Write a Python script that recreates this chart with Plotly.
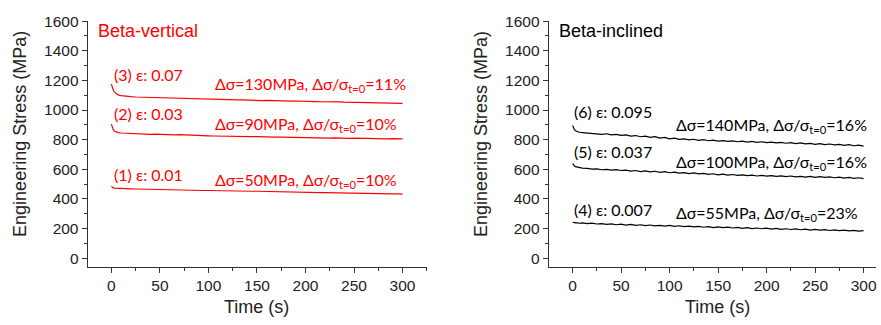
import plotly.graph_objects as go

# ---------------- data ----------------
time_s = [0, 1, 2, 3, 5, 7, 10] + list(range(15, 301, 5))

# Beta-vertical (red)
s3_eps007 = [1175, 1150, 1134, 1122, 1110, 1102, 1097,
             1092, 1090, 1088, 1087, 1085, 1086, 1083, 1081,
             1082, 1080, 1079, 1078, 1079, 1076, 1075, 1076, 1073, 1072,
             1073, 1071, 1070, 1071, 1069, 1068, 1069, 1067, 1066, 1066,
             1064, 1065, 1063, 1062, 1063, 1061, 1060, 1061, 1059, 1058,
             1059, 1057, 1056, 1057, 1055, 1054, 1055, 1053, 1052, 1053,
             1051, 1050, 1051, 1049, 1048, 1049, 1047, 1046, 1047, 1045]
s2_eps003 = [905, 880, 866, 858, 852, 848, 845,
             843, 841, 840, 838, 839, 836, 837, 835,
             836, 834, 833, 834, 832, 831, 832, 828, 825, 826,
             825, 824, 825, 823, 822, 823, 821, 821, 820, 821,
             819, 818, 819, 817, 817, 816, 817, 815, 814, 815,
             813, 814, 812, 812, 811, 812, 810, 811, 809, 810,
             809, 808, 809, 807, 808, 807, 806, 807, 805, 806]
s1_eps001 = [485, 478, 475, 473, 472, 471, 470,
             469, 468, 467, 466, 465, 464, 463, 462,
             462, 461, 460, 460, 459, 459, 458, 458, 457, 457,
             456, 456, 455, 455, 454, 454, 453, 453, 452, 452,
             451, 451, 450, 449, 449, 448, 447, 447, 446, 445,
             445, 444, 443, 443, 442, 441, 441, 440, 440, 439,
             438, 438, 437, 436, 436, 435, 435, 434, 434, 433]

# Beta-inclined (black)
s6_eps0095 = [895, 878, 866, 860, 854, 850, 848,
              846, 840, 843, 836, 840, 832, 836, 829,
              832, 824, 828, 820, 824, 816, 820, 811, 815, 806,
              810, 802, 806, 799, 803, 796, 800, 793, 797, 790,
              794, 788, 792, 786, 790, 784, 788, 782, 786, 780,
              784, 778, 782, 776, 780, 774, 778, 772, 775, 769,
              773, 767, 771, 765, 768, 762, 766, 759, 763, 756]
s5_eps0037 = [638, 628, 622, 618, 614, 611, 608,
              606, 601, 603, 597, 600, 594, 598, 592,
              595, 588, 592, 585, 589, 583, 587, 580, 584, 577,
              581, 574, 578, 571, 576, 569, 573, 566, 570, 563,
              567, 561, 565, 559, 563, 557, 561, 555, 559, 554,
              558, 552, 556, 551, 555, 549, 553, 548, 552, 546,
              550, 545, 549, 543, 547, 541, 545, 539, 543, 537]
s4_eps0007 = [243, 240, 241, 238, 239, 236, 238,
              234, 237, 231, 234, 228, 232, 226, 230,
              224, 228, 222, 226, 220, 224, 218, 222, 217, 221,
              215, 219, 213, 217, 211, 215, 209, 213, 207, 211,
              206, 210, 204, 208, 202, 206, 200, 204, 199, 203,
              197, 201, 195, 199, 194, 198, 192, 196, 190, 194,
              189, 193, 187, 191, 186, 190, 184, 188, 183, 186]

x_ticks = [0, 50, 100, 150, 200, 250, 300]
y_ticks = [0, 200, 400, 600, 800, 1000, 1200, 1400, 1600]

RED = "#ff0000"
BLACK = "#000000"
TICKFONT = "Liberation Sans"
ANNFONT = "Lato"

fig = go.Figure()
for ys, c, ax in [(s3_eps007, RED, 1), (s2_eps003, RED, 1), (s1_eps001, RED, 1),
                  (s6_eps0095, BLACK, 2), (s5_eps0037, BLACK, 2), (s4_eps0007, BLACK, 2)]:
    fig.add_trace(go.Scatter(x=time_s, y=ys, mode="lines",
                             line=dict(color=c, width=1.2),
                             xaxis="x" if ax == 1 else "x2",
                             yaxis="y" if ax == 1 else "y2",
                             showlegend=False, hoverinfo="skip"))

W, H = 881, 325
def px(x):
    return x / W
def py(y):
    return 1 - y / H

xa = dict(range=[-24.5, 325], tickvals=x_ticks, ticks="outside", ticklen=5,
          tickwidth=1, tickcolor="#333", showline=True, linecolor="#333", linewidth=1,
          showgrid=False, zeroline=False, tickfont=dict(family=TICKFONT, size=15.5, color="#222"),
          minor=dict(ticks="outside", ticklen=3, dtick=25, tick0=0, tickcolor="#333", showgrid=False),
          anchor="y")
ya = dict(range=[-57, 1600], tickvals=y_ticks, ticks="outside", ticklen=5,
          tickwidth=1, tickcolor="#333", showline=True, linecolor="#333", linewidth=1,
          showgrid=False, zeroline=False, tickfont=dict(family=TICKFONT, size=15.5, color="#222"),
          minor=dict(ticks="outside", ticklen=3, dtick=100, tick0=0, tickcolor="#333", showgrid=False),
          domain=[py(265), py(12.5)])

fig.update_layout(
    width=W, height=H, autosize=False,
    margin=dict(l=0, r=0, t=0, b=0),
    paper_bgcolor="white", plot_bgcolor="white",
    xaxis=dict(xa, domain=[px(87.7), px(427.3)], anchor="y"),
    yaxis=dict(ya, anchor="x"),
    xaxis2=dict(xa, domain=[px(549.3), px(876.7)], anchor="y2", range=[-24.7, 312.5]),
    yaxis2=dict(ya, anchor="x2"),
)

anns = []
def ann(text, x, y, xref, yref, color, size, family=ANNFONT, anchor="left", **kw):
    anns.append(dict(text=text, x=x, y=y, xref=xref, yref=yref, showarrow=False,
                     xanchor=anchor, yanchor="middle",
                     font=dict(family=family, size=size, color=color), **kw))

# panel titles
ann("Beta-vertical", -16.0, 1534, "x", "y", RED, 18, family=TICKFONT)
ann("Beta-inclined", -16.5, 1534, "x2", "y2", BLACK, 18, family=TICKFONT)

sig = "Δσ/σ<sub>t=0</sub>"
# left labels
ann("(3) ε: 0.07", 0.4, 1238, "x", "y", RED, 16)
ann("Δσ=130MPa, " + sig + "=11%", 105, 1175, "x", "y", RED, 16)
ann("(2) ε: 0.03", 0.4, 976, "x", "y", RED, 16)
ann("Δσ=90MPa, " + sig + "=10%", 105, 903, "x", "y", RED, 16)
ann("(1) ε: 0.01", 0.4, 567, "x", "y", RED, 16)
ann("Δσ=50MPa, " + sig + "=10%", 105, 527, "x", "y", RED, 16)
# right labels
ann("(6) ε: 0.095", -0.5, 987, "x2", "y2", BLACK, 16)
ann("Δσ=140MPa, " + sig + "=16%", 104.7, 895, "x2", "y2", BLACK, 16)
ann("(5) ε: 0.037", -0.5, 720, "x2", "y2", BLACK, 16)
ann("Δσ=100MPa, " + sig + "=16%", 104.7, 647, "x2", "y2", BLACK, 16)
ann("(4) ε: 0.007", -0.5, 330, "x2", "y2", BLACK, 16)
ann("Δσ=55MPa, " + sig + "=23%", 104.7, 304, "x2", "y2", BLACK, 16)

# axis titles
for cx in [20, 481.7]:
    ann("Engineering Stress (MPa)", px(cx), py(128.5), "paper", "paper", "#222", 18,
        family=TICKFONT, anchor="center", textangle=-90)
for cx in [256.7, 718.3]:
    ann("Time (s)", px(cx), py(307), "paper", "paper", "#222", 18,
        family=TICKFONT, anchor="center")

fig.update_layout(annotations=anns)
fig.write_html("out.html")
